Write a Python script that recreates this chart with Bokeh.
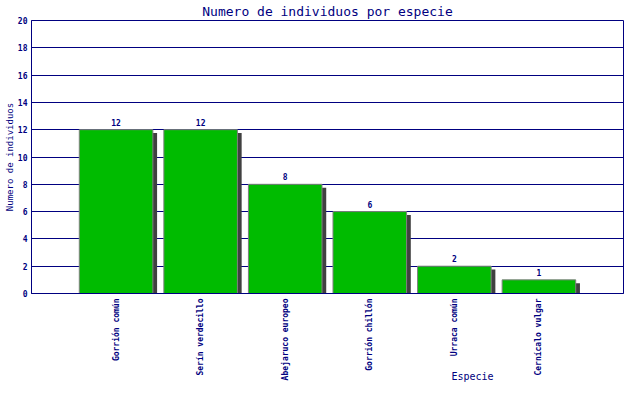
import math
from bokeh.plotting import figure
from bokeh.models import Range1d, FixedTicker, Title
from bokeh.core.properties import value
from bokeh.embed import file_html
from bokeh.resources import INLINE

categories = ["Gorrión común", "Serín verdecillo", "Abejaruco europeo",
              "Gorrión chillón", "Urraca común", "Cernícalo vulgar"]
counts = [12, 12, 8, 6, 2, 1]
y_ticks = [0, 2, 4, 6, 8, 10, 12, 14, 16, 18, 20]

title_text = "Numero de individuos por especie"
x_label = "Especie"
y_label = "Numero de individuos"

NAVY = "#000080"
FONT = "DejaVu Sans Mono"

xs = list(range(1, len(categories) + 1))

p = figure(width=624, height=384, output_backend="svg", toolbar_location=None,
           x_range=Range1d(0, len(categories) + 1), y_range=Range1d(0, 20),
           min_border_left=31, min_border_right=1, min_border_top=20,
           min_border_bottom=91)
p.background_fill_color = "white"
p.border_fill_color = "white"
p.outline_line_color = NAVY
p.outline_line_width = 1

p.title.text = title_text
p.title.align = "center"
p.title.text_font = FONT
p.title.text_font_size = "13px"
p.title.text_font_style = "normal"
p.title.text_color = NAVY
p.title.standoff = 3

# shadows
shadow_x = [x + 0.05 for x in xs]
shadow_top = [c - 0.25 for c in counts]
p.vbar(x=shadow_x, top=shadow_top, bottom=0, width=0.87,
       fill_color="#404040", line_color=None)
# bars
p.vbar(x=xs, top=counts, bottom=0, width=0.87,
       fill_color="#00BB00", line_color="#808080", line_width=1)

p.text(x=xs, y=counts, text=[str(c) for c in counts],
       text_align="center", text_baseline="bottom", y_offset=-4,
       text_font=value(FONT), text_font_size="8px", text_font_style="bold",
       text_color=NAVY)

# grid
p.xgrid.visible = False
p.ygrid.ticker = FixedTicker(ticks=y_ticks)
p.ygrid.grid_line_color = NAVY
p.ygrid.grid_line_width = 1

# axes
p.yaxis.ticker = FixedTicker(ticks=y_ticks)
p.xaxis.ticker = FixedTicker(ticks=xs)
p.xaxis.major_label_overrides = {x: c for x, c in zip(xs, categories)}
p.xaxis.major_label_orientation = math.pi / 2
for ax in (p.xaxis, p.yaxis):
    ax.axis_line_color = NAVY
    ax.major_tick_in = 0
    ax.major_tick_out = 0
    ax.minor_tick_line_color = None
    ax.major_label_text_color = NAVY
    ax.major_label_text_font = FONT
    ax.major_label_text_font_size = "8px"
    ax.major_label_text_font_style = "bold"
p.yaxis.major_label_standoff = 4
p.xaxis.major_label_standoff = 5

p.yaxis.axis_label = y_label
p.yaxis.axis_label_text_font = FONT
p.yaxis.axis_label_text_font_size = "9px"
p.yaxis.axis_label_text_font_style = "normal"
p.yaxis.axis_label_text_color = NAVY
p.yaxis.axis_label_standoff = 0

p.add_layout(Title(text=x_label, align="left", offset=420, standoff=-26,
                   vertical_align="top",
                   text_font=FONT, text_font_size="10px",
                   text_font_style="normal", text_color=NAVY), "below")

open("out.html", "w").write(file_html(p, INLINE))
